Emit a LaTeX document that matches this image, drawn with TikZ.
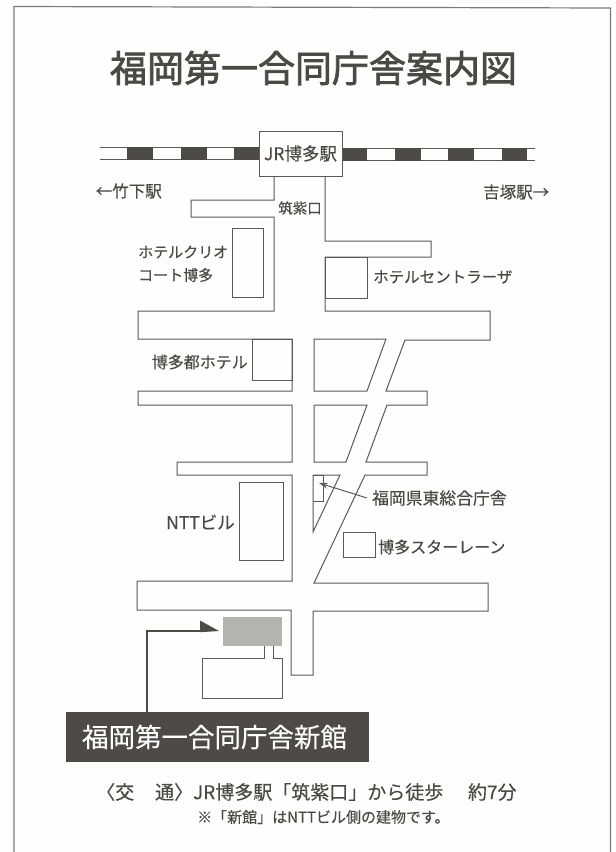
\documentclass[tikz,border=0pt]{standalone}
\usetikzlibrary{arrows.meta}
\usepackage{fontspec}
\setmainfont[FakeBold=0.25]{Noto Sans CJK JP}
\newfontfamily\titlefont[FakeBold=2]{Noto Sans CJK JP}
\definecolor{ink}{HTML}{4A4946}
\definecolor{lineink}{HTML}{5A5955}
\definecolor{darkband}{HTML}{4E4A45}
\definecolor{paper}{HTML}{FEFEFC}
\definecolor{bldg}{HTML}{B4B4AE}
\tikzset{
  road/.style={draw=lineink,line width=1pt,line join=miter},
  house/.style={draw=lineink,line width=1pt,fill=none},
  lbl/.style={text=ink,inner sep=0pt,font=\fontsize{15}{15}\selectfont},
  darkseg/.style={fill=darkband,draw=none},
  frameline/.style={draw=black!52,line width=1.2pt},
}
\begin{document}
\begin{tikzpicture}[x=1pt,y=-1pt]
\useasboundingbox (0,0) rectangle (616,852);
\fill[paper] (0,0) rectangle (616,852);
\draw[frameline] (14,852) -- (14,6.5) -- (610.5,8) -- (610.5,852);
% title
\node[lbl,font=\titlefont\fontsize{37}{37}\selectfont,anchor=center] (title) at (313.5,68) {福岡第一合同庁舎案内図};
% tracks
\draw[road] (100,147) -- (259,147) (100,159.5) -- (259,159.5);
\draw[road] (342,148) -- (535,148) (342,160.5) -- (535,160.5);
\foreach \a/\b in {127/153,181/207,234/259}{\fill[darkseg] (\a,147) rectangle (\b,159.5);}
\foreach \a/\b in {342/367,395/421,448/474,502/527}{\fill[darkseg] (\a,148) rectangle (\b,160.5);}
\node[draw=lineink,line width=1pt,fill=paper,minimum width=83pt,minimum height=45pt,inner sep=0pt,text=ink,font=\fontsize{17.5}{17.5}\selectfont] (jr) at (300.5,153.5) {JR博多駅};
% roads
\draw[road] (274,176) -- (274,200) -- (191,200) -- (191,217) -- (274,217) -- (274,311) -- (138,311) -- (138,339) -- (292,339) -- (292,391) -- (138,391) -- (138,405) -- (292,405) -- (292,462) -- (177,462) -- (177,475) -- (292,475) -- (292,581) -- (137,581) -- (137,610) -- (291,610) -- (291,675) -- (313,675) -- (313,611) -- (488,611) -- (488,583) -- (314,583) -- (365,475) -- (427,475) -- (427,462) -- (366,462) -- (387,405) -- (427,405) -- (427,391) -- (386,391) -- (405,340) -- (490,340) -- (490,311) -- (325,311) -- (325,257) -- (431,257) -- (431,241) -- (325,241) -- (325,176);
\draw[road] (314,339) -- (386,339) -- (367,391) -- (314,391) -- cycle;
\draw[road] (314,405) -- (367,405) -- (346,462) -- (314,462) -- cycle;
\draw[road] (313,475) -- (340,475) -- (313,532) -- cycle;
% buildings
\draw[house] (232,228) rectangle (263,297);
\draw[house] (325,257) rectangle (367,298);
\draw[house] (252,339) rectangle (292,380);
\draw[house] (239,482) rectangle (283,560);
\draw[house] (343,532) rectangle (375,557);
\draw[house] (313,475) -- (323,475) -- (323,501) -- (313,501);
\node[fill=bldg,minimum width=59pt,minimum height=29pt,inner sep=0pt] (newbldg) at (252.5,631.5) {};
\draw[house] (264,646) -- (264,658) -- (202,658) -- (202,698) -- (282,698) -- (282,658) -- (273,658) -- (273,646);
% labels
\node[lbl,font=\fontsize{16.5}{16.5}\selectfont,anchor=east] (takeshita) at (162,191) {←竹下駅};
\node[lbl,font=\fontsize{16.5}{16.5}\selectfont,anchor=west] (yoshizuka) at (483,192) {吉塚駅→};
\node[lbl,font=\fontsize{14.5}{14.5}\selectfont,anchor=center] (chikushi) at (300,208) {筑紫口};
\node[lbl,anchor=west] (clio1) at (138,252) {ホテルクリオ};
\node[lbl,anchor=west] (clio2) at (138,275) {コート博多};
\node[lbl,font=\fontsize{15.5}{15.5}\selectfont,anchor=west] (centraza) at (373,277) {ホテルセントラーザ};
\node[lbl,font=\fontsize{16}{16}\selectfont,anchor=east] (miyako) at (248,362) {博多都ホテル};
\node[lbl,font=\fontsize{17.5}{17.5}\selectfont,anchor=east] (ntt) at (235,522) {NTTビル};
\node[lbl,font=\fontsize{16}{16}\selectfont,anchor=west] (starlane) at (378,547) {博多スターレーン};
\node[lbl,font=\fontsize{16.8}{16.8}\selectfont,anchor=west] (kento) at (372,498) {福岡県東総合庁舎};
\coordinate (kentotip) at (319,483);
\draw[draw=lineink,line width=1pt,-{Stealth[length=9pt,width=6pt]}] ([xshift=-5pt]kento.west) -- (kentotip);
% dark band
\node[fill=darkband,text=white,minimum width=303pt,minimum height=50pt,inner sep=0pt,font=\fontsize{26.5}{26.5}\selectfont] (band) at (217.5,737) {\hspace*{-6pt}福岡第一合同庁舎新館};
\coordinate (bandout) at (147,712);
\coordinate (elbow) at (147,631);
\coordinate (tip) at (219,631);
\draw[draw=darkband,line width=2.4pt] (bandout) -- (elbow) -- (200,631);
\fill[darkband] (200,620.5) -- (tip) -- (200,632.2) -- cycle;
% footer
\node[lbl,font=\fontsize{19}{19}\selectfont,anchor=west] (access) at (96,792) {〈交\hspace{1.1em}通〉JR博多駅「筑紫口」から徒歩\hspace{1.3em}約7分};
\node[lbl,font=\fontsize{15}{15}\selectfont,anchor=west] (note) at (197,817) {※「新館」はNTTビル側の建物です。};
\end{tikzpicture}
\end{document}
